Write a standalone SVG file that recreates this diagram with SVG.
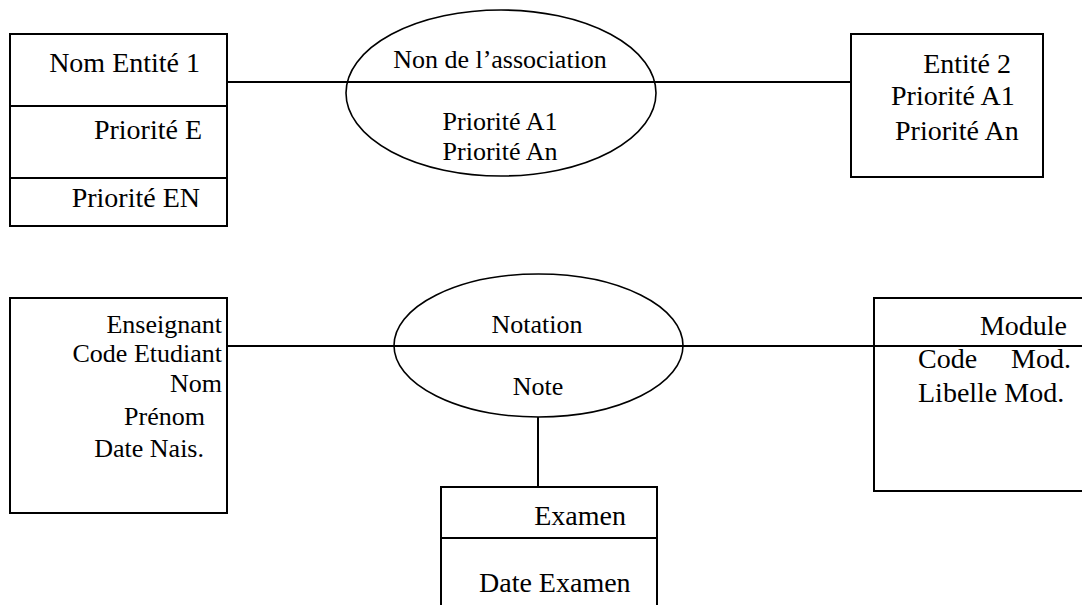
<svg xmlns="http://www.w3.org/2000/svg" width="1082" height="605" viewBox="0 0 1082 605">
<style>
.shape{fill:none;stroke:#000;stroke-width:2}
.ell{fill:none;stroke:#000;stroke-width:1.6}
.ln{stroke:#000;stroke-width:2;fill:none}
text{font-family:"Liberation Serif","Times New Roman",serif;fill:#000}
.t28{font-size:28px}
.t26{font-size:26px}
.e{text-anchor:end}
.m{text-anchor:middle}
</style>
<rect width="1082" height="605" fill="#fff"/>
<g id="connectors">
<line class="ln" x1="227" y1="82" x2="851" y2="82"/>
<line class="ln" x1="227" y1="346" x2="1082" y2="346"/>
<line class="ln" x1="538" y1="417" x2="538" y2="487"/>
</g>
<g id="entite1">
<rect class="shape" x="10" y="34" width="217" height="192"/>
<line class="ln" x1="10" y1="106" x2="227" y2="106"/>
<line class="ln" x1="10" y1="178" x2="227" y2="178"/>
<text class="t28 e" x="200" y="72">Nom Entité 1</text>
<text class="t28 e" x="202" y="139">Priorité E</text>
<text class="t28 e" x="200" y="207">Priorité EN</text>
</g>
<g id="association1">
<ellipse class="ell" cx="501" cy="93" rx="155" ry="83"/>
<text class="t26 m" x="500" y="68">Non de l’association</text>
<text class="t26 m" x="500" y="130">Priorité A1</text>
<text class="t26 m" x="500" y="160">Priorité An</text>
</g>
<g id="entite2">
<rect class="shape" x="851" y="34" width="192" height="143"/>
<text class="t28 e" x="1011" y="73">Entité 2</text>
<text class="t28" x="891" y="105">Priorité A1</text>
<text class="t28" x="895" y="140">Priorité An</text>
</g>
<g id="enseignant">
<rect class="shape" x="10" y="298" width="217" height="215"/>
<text class="t26 e" x="222" y="333">Enseignant</text>
<text class="t26 e" x="222" y="362">Code Etudiant</text>
<text class="t26 e" x="222" y="392">Nom</text>
<text class="t26 e" x="205" y="425">Prénom</text>
<text class="t26 e" x="204" y="457">Date Nais.</text>
</g>
<g id="notation">
<ellipse class="ell" cx="538.5" cy="345.5" rx="144.5" ry="71.5"/>
<text class="t26 m" x="537" y="333">Notation</text>
<text class="t26 m" x="538" y="395">Note</text>
</g>
<g id="module">
<path class="shape" d="M1084,298 H874 V491 H1084"/>
<text class="t28 e" x="1067" y="335">Module</text>
<text class="t28" x="918" y="368" word-spacing="27">Code Mod.</text>
<text class="t28" x="918" y="402">Libelle Mod.</text>
</g>
<g id="examen">
<path class="shape" d="M441,607 V487 H657 V607"/>
<line class="ln" x1="441" y1="538" x2="657" y2="538"/>
<text class="t28 e" x="626" y="525">Examen</text>
<text class="t28" x="479" y="592">Date Examen</text>
</g>
</svg>
